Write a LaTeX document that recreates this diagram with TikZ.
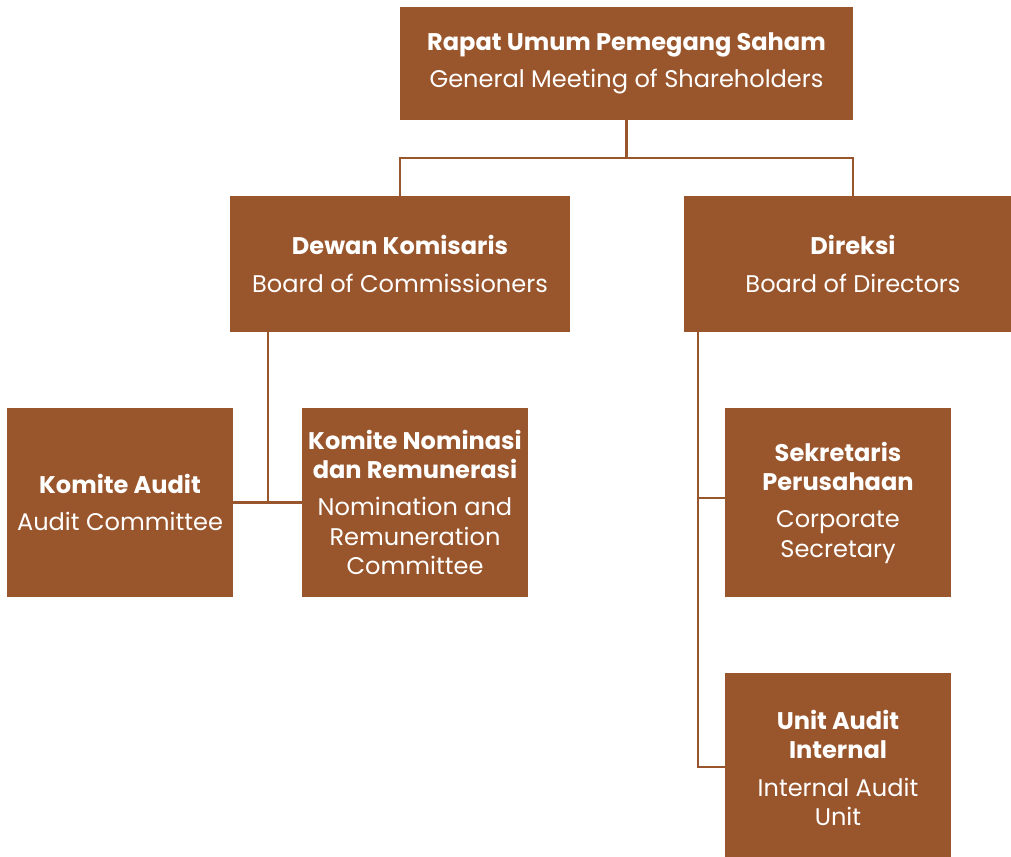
\documentclass[tikz,border=0pt]{standalone}
\usepackage{fontspec}
\setmainfont{Poppins}
\usetikzlibrary{positioning}
\definecolor{bark}{HTML}{99552C}
\tikzset{
    unit/.style = {fill=bark, text=white, align=center, inner sep=0pt,
                   font=\fontsize{13.7pt}{16.7pt}\selectfont},
    wide unit/.style = {unit, minimum width=#1, minimum height=2.72cm},
    small unit/.style = {unit, minimum width=4.52cm, minimum height=#1},
    link/.style = {draw=bark, line width=1.6pt},
}

\begin{document}
\begin{tikzpicture}[x=0.02cm, y=-0.02cm]
    \useasboundingbox (0,0) rectangle (1011,856);
    % top
    \node (rups) [unit, minimum width=9.06cm, minimum height=2.26cm] at (626.5,63.5)
        {\textbf{Rapat Umum Pemegang Saham}\\[4.5pt]General Meeting of Shareholders};
    \node (dk) [wide unit=6.8cm] at (400,264)
        {\textbf{Dewan Komisaris}\\[4.5pt]Board of Commissioners};
    \node (dir) [wide unit=6.76cm] at (853,264)
        {\textbf{Direksi}\\[4.5pt]Board of Directors};
    % committees
    \node (ka) [small unit=3.78cm] at (120,502.5)
        {\textbf{Komite Audit}\\[4.5pt]Audit Committee};
    \node (knr) [small unit=3.78cm] at (415,502.5)
        {\textbf{Komite Nominasi}\\\textbf{dan Remunerasi}\\[4.5pt]Nomination and\\Remuneration\\Committee};
    \node (sp) [small unit=3.78cm] at (838,502.5)
        {\textbf{Sekretaris}\\\textbf{Perusahaan}\\[4.5pt]Corporate\\Secretary};
    \node (uai) [small unit=3.8cm] at (838,768)
        {\textbf{Unit Audit}\\\textbf{Internal}\\[4.5pt]Internal Audit\\Unit};

    \coordinate (hl) at (400,158);
    \coordinate (dkl) at (268,502.5);
    \coordinate (ds) at (698,498);
    \coordinate (dl) at (698,767);

    \draw[link] (rups.south) -- (rups.south |- hl);
    \draw[link] (dk.north) -- (hl) -| (dir.north);
    \draw[link] (dkl |- dk.south) -- (dkl);
    \draw[link] (ka.east) -- (knr.west);
    \draw[link] (dl |- dir.south) -- (dl) -- (dl -| uai.west);
    \draw[link] (ds) -- (ds -| sp.west);
\end{tikzpicture}
\end{document}
